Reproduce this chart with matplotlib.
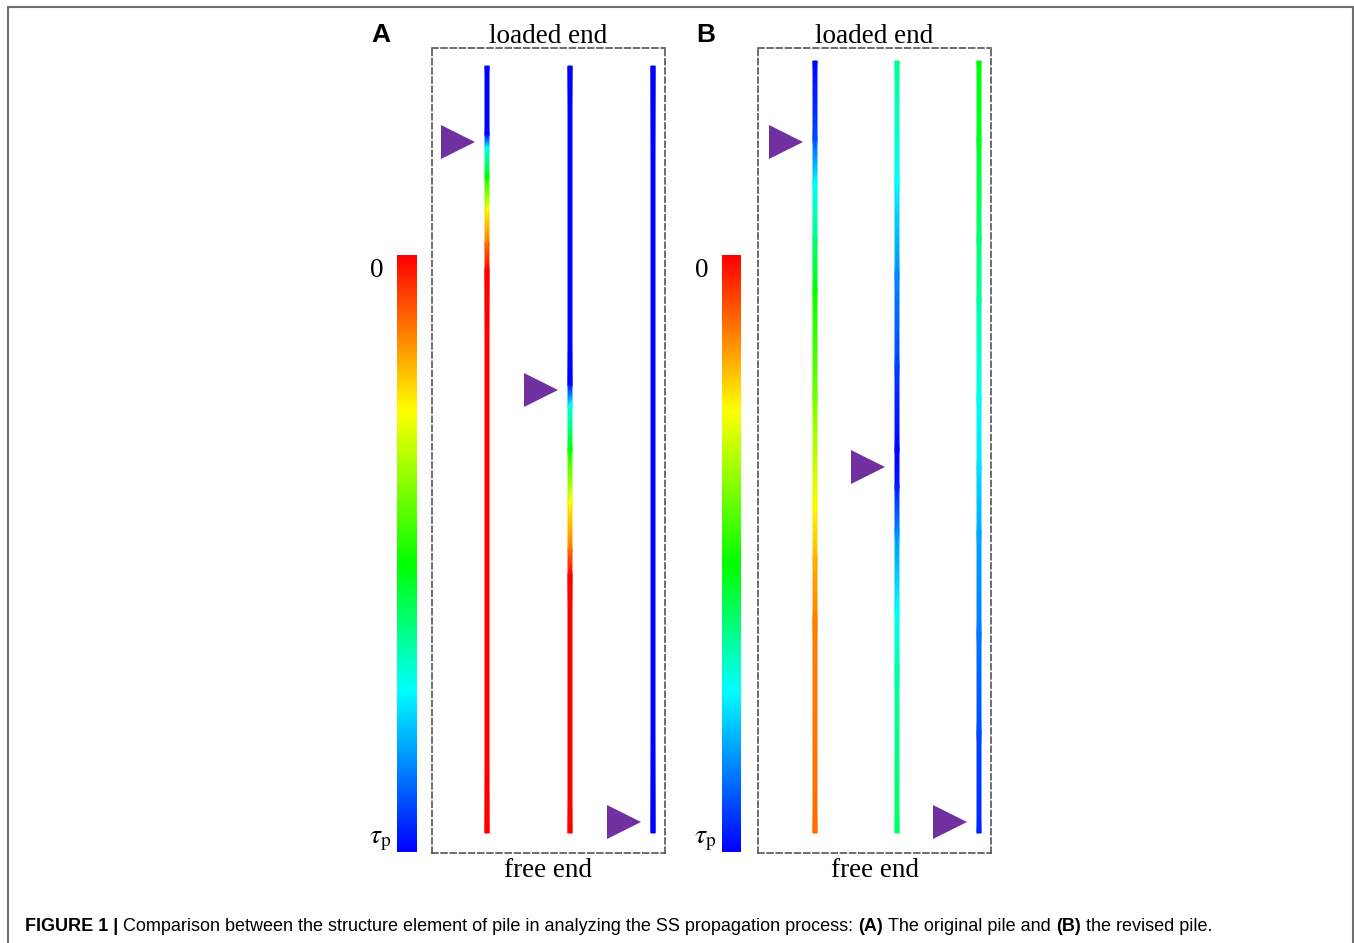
import numpy as np
import matplotlib
matplotlib.use('Agg')
import matplotlib.pyplot as plt
from matplotlib.colors import LinearSegmentedColormap, Normalize
from matplotlib.cm import ScalarMappable
from matplotlib.patches import Rectangle

plt.rcParams['mathtext.fontset'] = 'stix'
plt.rcParams['font.family'] = ['Liberation Serif', 'DejaVu Serif']

W, H = 1354, 943

# colour scale: 0 (red, top) ... tau_p (blue, bottom)
cmap_pos = [0.0, 0.26, 0.52, 0.73, 1.0]
cmap_col = ['#ff0000', '#ffff00', '#00ff00', '#00ffff', '#0000ff']

# depth along pile (0 = loaded end, 1 = free end) and stress ratio tau/tau_p
# (A) original pile
a1_z = [0.0, 0.090, 0.106, 0.145, 0.188, 0.231, 0.266, 1.0]
a1_v = [1.0, 1.0, 0.73, 0.52, 0.26, 0.12, 0.0, 0.0]
a2_z = [0.0, 0.416, 0.442, 0.501, 0.570, 0.631, 0.664, 1.0]
a2_v = [1.0, 1.0, 0.73, 0.52, 0.26, 0.12, 0.0, 0.0]
a3_z = [0.0, 1.0]
a3_v = [1.0, 1.0]
a_peak = [0.099, 0.422, 0.986]

# (B) revised pile
b1_z = [0.0, 0.102, 0.158, 0.232, 0.297, 0.439, 0.578, 0.646, 0.724, 1.0]
b1_v = [1.0, 0.92, 0.73, 0.62, 0.52, 0.40, 0.26, 0.18, 0.13, 0.11]
b2_z = [0.0, 0.158, 0.275, 0.396, 0.504, 0.552, 0.611, 0.711, 0.785, 1.0]
b2_v = [0.63, 0.73, 0.85, 0.93, 1.0, 0.97, 0.85, 0.73, 0.66, 0.60]
b3_z = [0.0, 0.102, 0.232, 0.310, 0.439, 0.526, 0.611, 0.741, 0.870, 1.0]
b3_v = [0.52, 0.55, 0.62, 0.65, 0.72, 0.76, 0.82, 0.87, 0.92, 0.96]
b_peak = [0.105, 0.526, 0.986]

cmap = LinearSegmentedColormap.from_list('ss', list(zip(cmap_pos, cmap_col)))
norm = Normalize(0, 1)

fig = plt.figure(figsize=(W / 100, H / 100), dpi=100)


def px_axes(x0, y0, x1, y1):
    # axes from pixel box (top-left origin)
    return fig.add_axes([x0 / W, 1 - y1 / H, (x1 - x0) / W, (y1 - y0) / H])


def draw_panel(letter, box, pile_x, pile_top, pile_bot, cbar_x, piles, peaks):
    x0, y0, x1, y1 = box
    ax = px_axes(x0, y0, x1, y1)
    sp = (pile_x[1] - pile_x[0])
    ax.set_xlim(1 - (pile_x[0] - x0) / sp, 1 + (x1 - pile_x[0]) / sp)
    L = pile_bot - pile_top
    ax.set_ylim(1 + (y1 - pile_bot) / L, -(pile_top - y0) / L)
    ax.set_xticks([])
    ax.set_yticks([])
    for s in ax.spines.values():
        s.set_linestyle((0, (3.5, 2)))
        s.set_linewidth(1.2)
        s.set_color('#555555')

    hw = 2.0 / sp
    for i, (z, v) in enumerate(piles):
        xc = i + 1
        z = np.asarray(z)
        v = np.asarray(v)
        X = np.column_stack([np.full(len(z), xc - hw), np.full(len(z), xc + hw)])
        Y = np.column_stack([z, z])
        C = np.column_stack([v, v])
        ax.pcolormesh(X, Y, C, cmap=cmap, norm=norm, shading='gouraud')
    ax.plot(np.arange(1, len(peaks) + 1) - 29 / sp, peaks, linestyle='none',
            marker='>', markersize=24, color='#7030a0', markeredgewidth=0)

    cx = (x0 + x1) / 2
    fig.text(cx / W, 1 - 43 / H, 'loaded end', fontsize=19.5, ha='center', va='baseline')
    fig.text(cx / W, 1 - 877 / H, 'free end', fontsize=19.5, ha='center', va='baseline')
    fig.text((cbar_x[0] - 26) / W, 1 - 35 / H, letter, fontsize=19, fontweight='bold',
             family='Liberation Sans', ha='left', va='center')

    cax = px_axes(cbar_x[0], 255, cbar_x[1], 852)
    cb = fig.colorbar(ScalarMappable(norm=norm, cmap=cmap), cax=cax)
    cb.outline.set_visible(False)
    cax.invert_yaxis()
    cax.set_yticks([])
    fig.text((cbar_x[0] - 27) / W, 1 - 277 / H, '0', fontsize=19.5, ha='left', va='baseline')
    fig.text((cbar_x[0] - 28) / W, 1 - 843 / H, r'$\tau_\mathrm{p}$', fontsize=20,
             ha='left', va='baseline')


draw_panel('A', (432, 48, 665, 853), [487, 570, 653], 66, 833, (397, 417),
           [(a1_z, a1_v), (a2_z, a2_v), (a3_z, a3_v)], a_peak)
draw_panel('B', (758, 48, 991, 853), [815, 897, 979], 61, 833, (722, 741),
           [(b1_z, b1_v), (b2_z, b2_v), (b3_z, b3_v)], b_peak)

# outer frame
fig.add_artist(Rectangle((8 / W, -0.05), (1353 - 8) / W, 1 - 7 / H + 0.05,
                         transform=fig.transFigure, fill=False, ec='#707070', lw=1.5))

# caption with bold pieces
caption = [('FIGURE 1 |', True),
           ('Comparison between the structure element of pile in analyzing the SS propagation process:', False),
           ('(A)', True), ('The original pile and', False), ('(B)', True), ('the revised pile.', False)]
cap_size = 13
r = fig.canvas.get_renderer()
t1 = fig.text(0, 0, 'x x', fontsize=cap_size, family='Liberation Sans')
t2 = fig.text(0, 0, 'xx', fontsize=cap_size, family='Liberation Sans')
gap = t1.get_window_extent(r).width - t2.get_window_extent(r).width
t1.remove()
t2.remove()
x = 25
for s, bold in caption:
    t = fig.text(x / W, 1 - 931 / H, s, fontsize=cap_size, family='Liberation Sans',
                 fontweight='bold' if bold else 'normal', ha='left', va='baseline')
    x = t.get_window_extent(r).x1 + gap

fig.savefig('out.png', dpi=100)
